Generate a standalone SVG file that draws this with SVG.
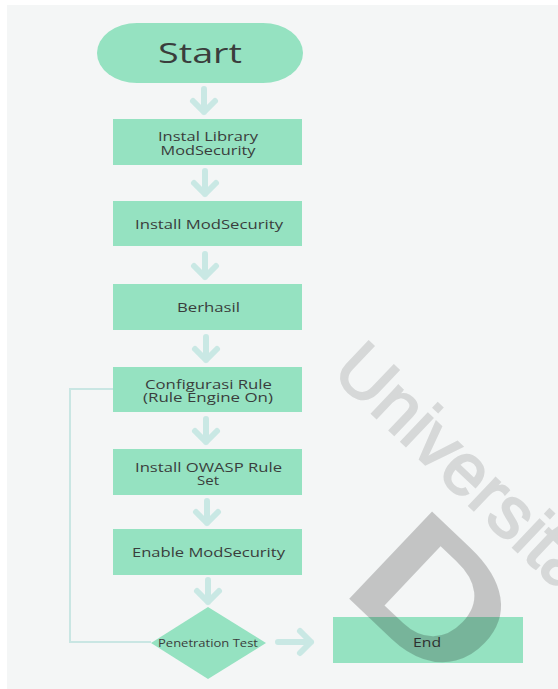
<svg xmlns="http://www.w3.org/2000/svg" width="558" height="689" viewBox="0 0 558 689">
  <defs>
    <style>
      .node { fill: #95e2c1; }
      .lbl { font-family: "Open Sans", "Noto Sans", "DejaVu Sans", sans-serif; font-size: 13px; fill: #3a3d3c; text-anchor: middle; }
      .arr { fill: none; stroke: #c9e8e4; stroke-width: 6; stroke-linecap: round; stroke-linejoin: round; }
      .loop { fill: none; stroke: #c9e6e3; stroke-width: 2; }
      .wm { font-family: "Liberation Sans", Arial, sans-serif; }
    </style>
  </defs>
  <rect x="0" y="0" width="558" height="689" fill="#ffffff"/>
  <rect x="7" y="5" width="551" height="684" fill="#f4f6f6"/>

  <!-- watermark text (light) -->
  <text class="wm" transform="translate(330,374) rotate(43.5)" font-size="73" fill="#d6d8d8" stroke="#d6d8d8" stroke-width="2">Universitas</text>

  <g id="connectors">
    <path class="arr" d="M204,89 V112 M193,101 L204,112 L215,101"/>
    <path class="arr" d="M205,171 V194 M194,183 L205,194 L216,183"/>
    <path class="arr" d="M205,254 V277 M194,266 L205,277 L216,266"/>
    <path class="arr" d="M206,337 V360 M195,349 L206,360 L217,349"/>
    <path class="arr" d="M206,419 V442 M195,431 L206,442 L217,431"/>
    <path class="arr" d="M207,501 V523 M196,512 L207,523 L218,512"/>
    <path class="arr" d="M208,580 V602 M197,591 L208,602 L219,591"/>
    <path class="arr" d="M278,642 H311 M300,631 L311,642 L300,653"/>
    <path class="loop" d="M113,389 H70 V642 H151"/>
  </g>

  <g id="start">
    <rect class="node" x="97" y="23" width="206" height="60" rx="40" ry="30"/>
    <text class="lbl" x="200" y="63" textLength="84" lengthAdjust="spacingAndGlyphs" style="font-size:28px">Start</text>
  </g>
  <g id="instal-library">
    <rect class="node" x="113" y="119" width="189" height="46"/>
    <text class="lbl" x="208" y="141" textLength="100" lengthAdjust="spacingAndGlyphs">Instal Library</text>
    <text class="lbl" x="208" y="155" textLength="95" lengthAdjust="spacingAndGlyphs">ModSecurity</text>
  </g>
  <g id="install-modsecurity">
    <rect class="node" x="113" y="201" width="189" height="45"/>
    <text class="lbl" x="209" y="228.5" textLength="148" lengthAdjust="spacingAndGlyphs">Install ModSecurity</text>
  </g>
  <g id="berhasil">
    <rect class="node" x="113" y="284" width="189" height="46"/>
    <text class="lbl" x="208.5" y="312" textLength="63" lengthAdjust="spacingAndGlyphs">Berhasil</text>
  </g>
  <g id="configurasi-rule">
    <rect class="node" x="113" y="367" width="189" height="45"/>
    <text class="lbl" x="208.5" y="389" textLength="127" lengthAdjust="spacingAndGlyphs">Configurasi Rule</text>
    <text class="lbl" x="208" y="402" textLength="130" lengthAdjust="spacingAndGlyphs">(Rule Engine On)</text>
  </g>
  <g id="install-owasp">
    <rect class="node" x="113" y="449" width="189" height="46"/>
    <text class="lbl" x="208.5" y="472" textLength="147" lengthAdjust="spacingAndGlyphs">Install OWASP Rule</text>
    <text class="lbl" x="208" y="485" textLength="22" lengthAdjust="spacingAndGlyphs">Set</text>
  </g>
  <g id="enable-modsecurity">
    <rect class="node" x="113" y="529" width="189" height="46"/>
    <text class="lbl" x="208.5" y="557" textLength="153" lengthAdjust="spacingAndGlyphs">Enable ModSecurity</text>
  </g>
  <g id="penetration-test">
    <polygon class="node" points="208,607 266,643 208,679 151,643"/>
    <text class="lbl" x="208" y="646.5" textLength="100" lengthAdjust="spacingAndGlyphs" style="font-size:10.5px">Penetration Test</text>
  </g>
  <g id="end">
    <rect class="node" x="333" y="617" width="190" height="46"/>
    <text class="lbl" x="427" y="646.5" textLength="28" lengthAdjust="spacingAndGlyphs">End</text>
  </g>

  <!-- watermark logo letter (translucent, over nodes) -->
  <text class="wm" transform="translate(339,589) rotate(43.5) scale(1.2,1)" font-size="175" font-weight="bold" fill="#000000" fill-opacity="0.2">D</text>
</svg>
